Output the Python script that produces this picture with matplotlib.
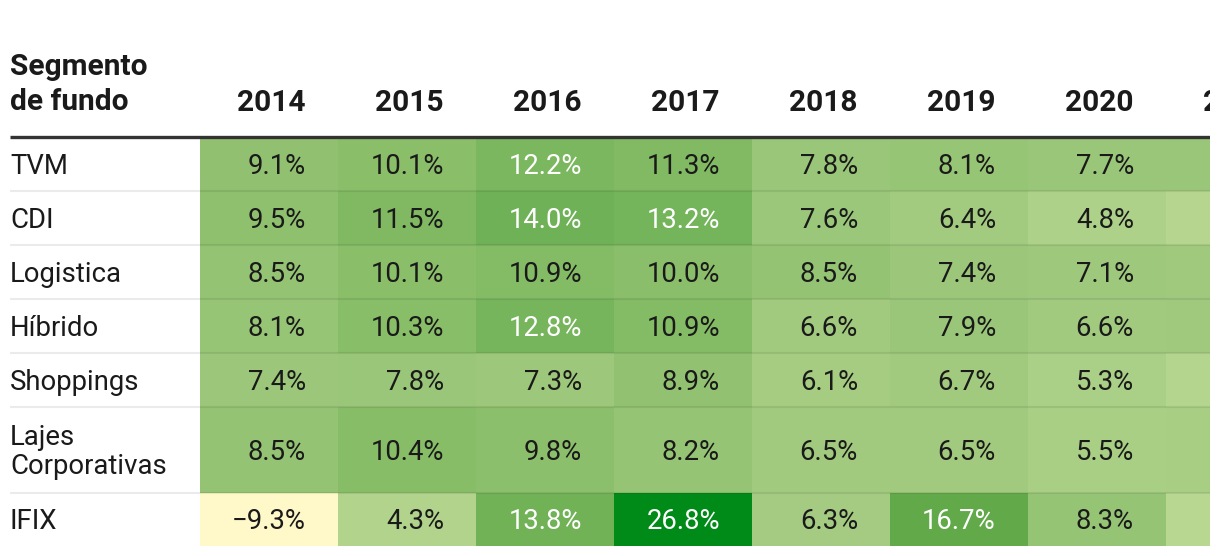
import numpy as np
import matplotlib.pyplot as plt
from matplotlib.colors import LinearSegmentedColormap, Normalize

plt.rcParams['font.family'] = ['Roboto', 'DejaVu Sans']

# data
years = ['2014', '2015', '2016', '2017', '2018', '2019', '2020', '2021']
segments = ['TVM', 'CDI', 'Logistica', 'Híbrido', 'Shoppings',
            'Lajes\nCorporativas', 'IFIX']
tvm = [9.1, 10.1, 12.2, 11.3, 7.8, 8.1, 7.7, 7.9]
cdi = [9.5, 11.5, 14.0, 13.2, 7.6, 6.4, 4.8, 3.5]
logistica = [8.5, 10.1, 10.9, 10.0, 8.5, 7.4, 7.1, 6.9]
hibrido = [8.1, 10.3, 12.8, 10.9, 6.6, 7.9, 6.6, 6.8]
shoppings = [7.4, 7.8, 7.3, 8.9, 6.1, 6.7, 5.3, 3.8]
lajes = [8.5, 10.4, 9.8, 8.2, 6.5, 6.5, 5.5, 5.6]
ifix = [-9.3, 4.3, 13.8, 26.8, 6.3, 16.7, 8.3, 3.0]

vals = np.array([tvm, cdi, logistica, hibrido, shoppings, lajes, ifix])

# layout (pixels)
W, H = 1220, 556
left_lbl = 10
col0 = 200
col_w = 138
top = 138
row_h = [53, 54, 54, 54, 54, 86, 53]
pad_r = 32

vmin, vmax = vals.min(), vals.max()
stops = [(-9.3, '#fff9c9'), (4.3, '#b1d38b'), (7.7, '#9ac679'),
         (10.1, '#8abe69'), (14.0, '#6fb156'), (16.7, '#62a94a'),
         (26.8, '#008a17')]
cmap = LinearSegmentedColormap.from_list(
    'seg', [((v - vmin) / (vmax - vmin), c) for v, c in stops])
norm = Normalize(vmin=vmin, vmax=vmax)

fig = plt.figure(figsize=(W / 100, H / 100), dpi=100)
ax = fig.add_axes([0, 0, 1210 / W, 1])
ax.set_xlim(0, 1210)
ax.set_ylim(H, 0)
ax.axis('off')

xe = col0 + col_w * np.arange(len(years) + 1)
ye = top + np.concatenate([[0], np.cumsum(row_h)])
ax.pcolormesh(xe, ye, vals, cmap=cmap, norm=norm, shading='flat',
              edgecolors='face', linewidth=0)

# row separators
for y in ye[1:-1]:
    ax.plot([left_lbl, 1210], [y, y], color='black', alpha=0.08, lw=1.5,
            solid_capstyle='butt')

# header
ax.plot([left_lbl, 1210], [136.5, 136.5], color='#333333', lw=2.4,
        solid_capstyle='butt')
ax.text(left_lbl, 75, 'Segmento', fontsize=21.5, fontweight='bold',
        color='#1a1a1a', ha='left', va='baseline')
ax.text(left_lbl, 110, 'de fundo', fontsize=21.5, fontweight='bold',
        color='#1a1a1a', ha='left', va='baseline')
for j, yr in enumerate(years):
    ax.text(xe[j + 1] - pad_r, 111, yr, fontsize=21.5, fontweight='bold',
            color='#1a1a1a', ha='right', va='baseline', clip_on=True)

cap = 19
for i, seg in enumerate(segments):
    yc = (ye[i] + ye[i + 1]) / 2
    lines = seg.split('\n')
    n = len(lines)
    for k, ln in enumerate(lines):
        yb = yc + cap / 2 + (k - (n - 1) / 2) * 29.5
        ax.text(left_lbl, yb, ln, fontsize=19.8, color='#1a1a1a',
                ha='left', va='baseline')
    for j in range(len(years)):
        v = vals[i, j]
        s = f'{v:.1f}%'.replace('-', '\u2212')
        ax.text(xe[j + 1] - pad_r, yc + cap / 2, s, fontsize=19.8,
                color='white' if v >= 12 else '#1a1a1a',
                ha='right', va='baseline', clip_on=True)

fig.savefig('out.png', dpi=100, facecolor='white')
